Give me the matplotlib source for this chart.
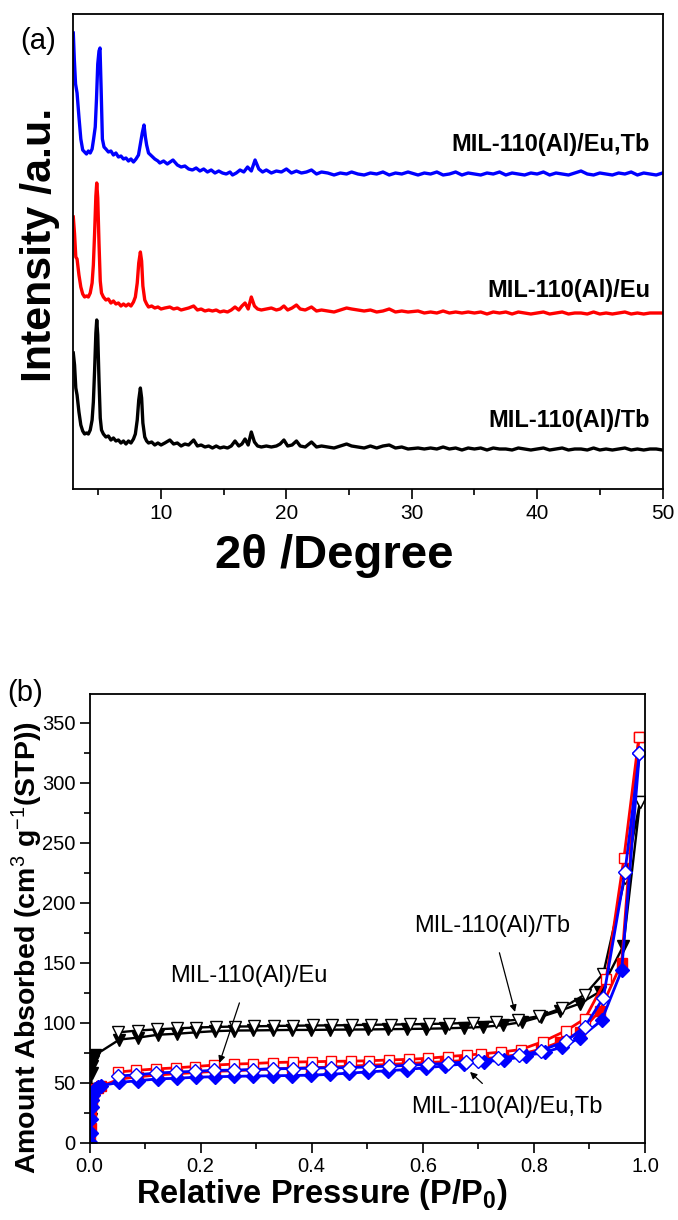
import matplotlib
matplotlib.use("Agg")
import matplotlib.pyplot as plt

plt.rcParams['font.family'] = ['Liberation Sans', 'DejaVu Sans']
plt.rcParams['mathtext.fontset'] = 'custom'
plt.rcParams['mathtext.rm'] = 'Liberation Sans'
plt.rcParams['mathtext.bf'] = 'Liberation Sans:bold'
plt.rcParams['mathtext.it'] = 'Liberation Sans:italic'

# ---------------- XRD data (panel a) ----------------
tb_2theta = [3.00, 3.10, 3.20, 3.30, 3.45, 3.60, 3.75, 3.90, 4.05, 4.20, 4.35, 4.50, 4.60, 4.70, 4.80, 4.87,
             4.95, 5.05, 5.15, 5.25, 5.40, 5.60, 5.80, 6.00, 6.20, 6.40, 6.60, 6.80, 7.00, 7.20, 7.40, 7.60,
             7.80, 7.95, 8.10, 8.22, 8.35, 8.45, 8.55, 8.70, 8.85, 9.00, 9.25, 9.50, 9.75, 10.0, 10.3, 10.7,
             11.0, 11.3, 11.6, 11.9, 12.2, 12.6, 12.9, 13.2, 13.5, 13.8, 14.1, 14.4, 14.7, 15.0, 15.3, 15.6,
             15.9, 16.2, 16.45, 16.7, 16.95, 17.2, 17.45, 17.7, 18.0, 18.4, 18.8, 19.2, 19.5, 19.8, 20.1, 20.45,
             20.8, 21.1, 21.5, 22.0, 22.4, 22.8, 23.3, 23.8, 24.3, 24.8, 25.2, 25.7, 26.2, 26.7, 27.2, 27.7,
             28.2, 28.7, 29.2, 29.7, 30.5, 31.0, 31.5, 32.0, 32.5, 33.0, 33.5, 34.0, 34.5, 35.0, 35.5, 36.0,
             36.5, 37.0, 37.5, 38.0, 38.5, 39.0, 39.5, 40.0, 40.5, 41.0, 41.5, 42.0, 42.5, 43.0, 43.5, 44.0,
             44.5, 45.0, 45.5, 46.0, 46.5, 47.0, 47.5, 48.0, 48.5, 49.0, 49.5, 50.0]
tb_int = [136, 124, 101, 94, 77, 64, 58, 55, 56, 55, 59, 69, 87, 119, 156, 169,
          154, 109, 71, 59, 55, 52, 53, 49, 51, 48, 49, 46, 48, 45, 48, 46,
          50, 55, 69, 89, 101, 91, 66, 52, 48, 46, 47, 44, 46, 44, 46, 49,
          45, 46, 43, 45, 44, 49, 43, 44, 42, 43, 41, 43, 41, 42, 41, 43,
          48, 43, 45, 50, 44, 57, 47, 43, 42, 43, 42, 43, 45, 49, 43, 44,
          48, 43, 42, 47, 42, 43, 42, 41, 43, 45, 43, 42, 41, 43, 41, 43,
          44, 41, 42, 40, 41, 40, 41, 40, 42, 40, 41, 39, 41, 40, 41, 39,
          41, 40, 40, 39, 41, 40, 39, 40, 41, 39, 40, 41, 39, 40, 40, 39,
          41, 39, 40, 39, 40, 41, 39, 40, 39, 40, 40, 39]

eu_2theta = tb_2theta
eu_int = [272, 255, 232, 230, 214, 202, 195, 192, 193, 192, 196, 206, 224, 256, 293, 306,
          291, 246, 208, 196, 192, 189, 190, 186, 188, 185, 186, 183, 185, 183, 185, 183,
          187, 192, 206, 226, 237, 228, 203, 189, 185, 182, 183, 181, 182, 180, 181, 182,
          180, 181, 179, 180, 181, 183, 179, 180, 178, 179, 178, 179, 177, 178, 177, 179,
          182, 179, 183, 186, 180, 192, 183, 180, 179, 180, 181, 179, 180, 183, 179, 181,
          184, 180, 179, 182, 178, 179, 178, 177, 179, 181, 180, 179, 178, 179, 177, 178,
          180, 177, 178, 177, 178, 176, 177, 176, 178, 176, 177, 176, 177, 176, 177, 175,
          177, 176, 177, 175, 177, 176, 175, 176, 177, 175, 176, 177, 175, 176, 176, 175,
          177, 175, 176, 175, 176, 177, 175, 176, 175, 176, 176, 176]

eutb_2theta = [3.00, 3.08, 3.18, 3.30, 3.45, 3.60, 3.75, 3.90, 4.05, 4.20, 4.35, 4.50, 4.62, 4.75, 4.85, 4.95,
               5.05, 5.13, 5.22, 5.32, 5.45, 5.60, 5.80, 6.00, 6.20, 6.40, 6.60, 6.80, 7.00, 7.20, 7.40, 7.60,
               7.80, 8.00, 8.20, 8.35, 8.50, 8.64, 8.75, 8.85, 9.00, 9.25, 9.50, 9.75, 9.90, 10.2, 10.5, 10.95,
               11.3, 11.6, 11.9, 12.2, 12.5, 12.8, 13.1, 13.4, 13.7, 14.0, 14.3, 14.6, 14.9, 15.2, 15.5, 15.7,
               16.0, 16.3, 16.6, 16.9, 17.2, 17.5, 17.8, 18.1, 18.4, 18.8, 19.2, 19.6, 20.0, 20.4, 20.8, 21.2,
               21.6, 22.0, 22.4, 22.8, 23.3, 23.8, 24.3, 24.8, 25.2, 25.7, 26.2, 26.7, 27.2, 27.7, 28.2, 28.7,
               29.2, 29.7, 30.5, 31.0, 31.5, 32.0, 32.5, 33.0, 33.5, 34.0, 34.5, 35.0, 35.5, 36.0, 36.5, 37.0,
               37.5, 38.0, 38.5, 39.0, 39.5, 40.0, 40.5, 41.0, 41.5, 42.0, 42.5, 43.0, 43.5, 44.0, 44.5, 45.0,
               45.5, 46.0, 46.5, 47.0, 47.5, 48.0, 48.5, 49.0, 49.5, 50.0]
eutb_int = [456, 430, 405, 396, 372, 350, 339, 337, 335, 338, 336, 340, 350, 362, 390, 425,
            438, 441, 400, 350, 342, 340, 337, 338, 334, 336, 332, 333, 330, 331, 328, 330,
            327, 330, 334, 345, 356, 364, 352, 344, 336, 333, 330, 328, 326, 328, 325, 329,
            324, 322, 323, 320, 319, 321, 318, 320, 317, 319, 316, 318, 316, 315, 317, 314,
            316, 319, 317, 322, 318, 329, 320, 317, 319, 316, 318, 317, 320, 316, 318, 316,
            317, 319, 315, 317, 316, 314, 316, 315, 317, 315, 314, 316, 315, 317, 314, 316,
            315, 317, 314, 316, 315, 317, 314, 315, 317, 314, 316, 315, 314, 316, 315, 317,
            314, 316, 315, 314, 316, 315, 317, 314, 316, 315, 314, 316, 318, 315, 314, 316,
            315, 314, 316, 315, 317, 314, 316, 315, 314, 316]

xrd_labels = ['MIL-110(Al)/Eu,Tb', 'MIL-110(Al)/Eu', 'MIL-110(Al)/Tb']
xrd_label_y = [344, 199, 68]

# ---------------- N2 isotherm data (panel b) ----------------
tb_ads_p = [0.001, 0.002, 0.003, 0.004, 0.005, 0.006, 0.008, 0.010,
            0.054, 0.088, 0.123, 0.157, 0.192, 0.226, 0.261, 0.295, 0.330, 0.364, 0.399, 0.433, 0.468,
            0.502, 0.537, 0.571, 0.606, 0.640, 0.675, 0.709, 0.744, 0.778, 0.813, 0.847, 0.883, 0.919,
            0.961, 0.991]
tb_ads_v = [4, 20, 45, 58, 64, 68, 71, 73,
            86, 87.6, 90, 90.8, 92, 93, 93.5, 93.6, 93.8, 94, 94, 94.2, 94.3,
            94.4, 94.6, 94.8, 95, 95.3, 95.8, 96.5, 98, 100.5, 105, 110, 116, 126,
            164, 284]
tb_des_p = [0.991, 0.964, 0.925, 0.892, 0.850, 0.810, 0.771, 0.732, 0.690, 0.647, 0.612, 0.577, 0.542, 0.507,
            0.472, 0.437, 0.402, 0.367, 0.332, 0.297, 0.262, 0.227, 0.192, 0.157, 0.122, 0.087, 0.052]
tb_des_v = [284, 221, 141, 123.5, 112, 105.5, 102.5, 101, 100, 99.3, 99, 98.7, 98.5, 98.3,
            98, 97.8, 97.7, 97.5, 97.3, 97, 96.8, 96.5, 96, 95.3, 94.5, 93.5, 92]

eu_ads_p = [0.001, 0.002, 0.003, 0.004, 0.005, 0.006, 0.008, 0.010, 0.015, 0.020,
            0.054, 0.088, 0.123, 0.157, 0.192, 0.226, 0.261, 0.295, 0.330, 0.364, 0.399, 0.433, 0.468,
            0.502, 0.537, 0.571, 0.606, 0.640, 0.675, 0.709, 0.744, 0.778, 0.813, 0.847, 0.883, 0.919,
            0.958, 0.989]
eu_ads_v = [2, 12, 24, 32, 37, 40, 43, 45, 46, 47,
            53, 55, 56.5, 57.5, 58.5, 59.5, 60, 60.8, 61.5, 62, 62.5, 63, 63.8,
            64.5, 65.2, 66, 66.8, 67.5, 68.5, 70, 71.5, 74, 78, 84, 92, 110,
            150, 338]
eu_des_p = [0.989, 0.962, 0.930, 0.892, 0.858, 0.816, 0.776, 0.740, 0.705, 0.680, 0.645, 0.610, 0.576, 0.540,
            0.504, 0.470, 0.435, 0.400, 0.366, 0.330, 0.294, 0.260, 0.225, 0.190, 0.156, 0.120, 0.084, 0.051]
eu_des_v = [338, 237, 136.5, 103.4, 93.4, 84.2, 77.6, 75.5, 74, 73, 71.8, 70.4, 69.5, 69,
            68.3, 68, 67.8, 67.5, 67.2, 66.8, 66, 65.5, 64.7, 63.5, 62.4, 61.5, 60.3, 58.9]

eutb_ads_p = [0.001, 0.002, 0.003, 0.004, 0.005, 0.006, 0.008, 0.010, 0.015, 0.020,
              0.054, 0.088, 0.123, 0.157, 0.192, 0.226, 0.261, 0.295, 0.330, 0.364, 0.399, 0.433, 0.468,
              0.502, 0.537, 0.571, 0.606, 0.640, 0.675, 0.710, 0.747, 0.786, 0.820, 0.850, 0.883, 0.922,
              0.958, 0.990]
eutb_ads_v = [1, 8, 20, 30, 36, 40, 43, 45, 46.5, 47.5,
              50.3, 51.7, 53.2, 53.7, 54.6, 55, 55.3, 55.6, 55.8, 56, 56.3, 57, 58,
              59, 60, 61, 62.5, 64, 65.8, 67.5, 69, 72.4, 75.5, 79.6, 87.6, 102,
              143.7, 324.7]
eutb_des_p = [0.990, 0.964, 0.925, 0.892, 0.858, 0.813, 0.774, 0.735, 0.699, 0.678, 0.645, 0.610, 0.575, 0.540,
              0.504, 0.468, 0.435, 0.400, 0.366, 0.330, 0.294, 0.260, 0.225, 0.190, 0.156, 0.120, 0.084, 0.051]
eutb_des_v = [324.7, 225.6, 120.7, 96.8, 84.8, 76.7, 72.7, 70.4, 68.1, 67.5, 66.1, 65.3, 64.5, 63.8,
              63.2, 62.6, 62.4, 62.2, 61.8, 61.6, 61, 60.5, 60.3, 59.5, 58.9, 58, 56.6, 55.5]

# ---------------- figure ----------------
W, H = 678, 1220
fig = plt.figure(figsize=(W / 100, H / 100), dpi=100)

def fx(px):
    return px / W

def fy(py):
    return 1 - py / H

# panel a
axa = fig.add_axes([fx(73.3), fy(489), fx(662.5) - fx(73.3), fy(14) - fy(489)])
axa.plot(tb_2theta, tb_int, color='black', lw=2.4)
axa.plot(eu_2theta, eu_int, color='#ff0000', lw=2.4)
axa.plot(eutb_2theta, eutb_int, color='#0000ff', lw=2.4)
axa.set_xlim(3, 50)
axa.set_ylim(0, 475)
axa.set_yticks([])
axa.set_xticks([10, 20, 30, 40, 50])
axa.set_xticks([5, 15, 25, 35, 45], minor=True)
axa.tick_params(axis='x', which='major', direction='out', length=7, width=1.2, labelsize=15, pad=4)
axa.tick_params(axis='x', which='minor', direction='out', length=4, width=1.2)
for s in axa.spines.values():
    s.set_linewidth(1.3)
for lab, yy in zip(xrd_labels, xrd_label_y):
    axa.text(49.0, yy, lab, ha='right', va='center', fontsize=17, fontweight='bold')

fig.text(fx(38), fy(41), '(a)', fontsize=21, ha='center', va='center')
fig.text(fx(40), fy(245), 'Intensity /a.u.', rotation=90, fontsize=31, fontweight='bold',
         ha='center', va='center')
fig.text(fx(334), fy(556), '2θ /Degree', fontsize=34, fontweight='bold', ha='center', va='center')

# panel b
axb = fig.add_axes([fx(89.5), fy(1142.7), fx(645) - fx(89.5), fy(694) - fy(1142.7)])
ms_t = 9
ms_s = 7
ms_d = 7.5
axb.plot(tb_ads_p, tb_ads_v, color='black', lw=1.7, marker='v', ms=ms_t, mfc='black', mec='black')
axb.plot(tb_des_p, tb_des_v, color='black', lw=1.7, marker='v', ms=ms_t, mfc='white', mec='black', mew=1.0)
axb.plot(eu_ads_p, eu_ads_v, color='#ff0000', lw=2.0, marker='s', ms=ms_s, mfc='#ff0000', mec='#ff0000')
axb.plot(eu_des_p, eu_des_v, color='#ff0000', lw=2.0, marker='s', ms=ms_s, mfc='white', mec='#ff0000', mew=1.0)
axb.plot(eutb_ads_p, eutb_ads_v, color='#0000ff', lw=2.0, marker='D', ms=ms_d, mfc='#0000ff', mec='#0000ff')
axb.plot(eutb_des_p, eutb_des_v, color='#0000ff', lw=2.0, marker='D', ms=ms_d, mfc='white', mec='#0000ff', mew=1.0)
axb.set_xlim(0, 1.0)
axb.set_ylim(0, 374)
axb.set_xticks([0.0, 0.2, 0.4, 0.6, 0.8, 1.0])
axb.set_xticklabels(['0.0', '0.2', '0.4', '0.6', '0.8', '1.0'])
axb.set_xticks([0.1, 0.3, 0.5, 0.7, 0.9], minor=True)
axb.set_yticks([0, 50, 100, 150, 200, 250, 300, 350])
axb.set_yticks([25, 75, 125, 175, 225, 275, 325], minor=True)
axb.tick_params(which='major', direction='out', length=7, width=1.2, labelsize=14.5, pad=3)
axb.tick_params(which='minor', direction='out', length=4, width=1.2)
for s in axb.spines.values():
    s.set_linewidth(1.3)

axb.annotate('MIL-110(Al)/Eu', xy=(0.234, 66.5), xytext=(0.286, 139), fontsize=17,
             ha='center', va='center', arrowprops=dict(arrowstyle='-|>', color='black', lw=0.9,
             mutation_scale=10, shrinkA=10, shrinkB=0))
axb.annotate('MIL-110(Al)/Tb', xy=(0.766, 109), xytext=(0.725, 181), fontsize=17,
             ha='center', va='center', arrowprops=dict(arrowstyle='-|>', color='black', lw=0.9,
             mutation_scale=10, shrinkA=10, shrinkB=0))
axb.annotate('MIL-110(Al)/Eu,Tb', xy=(0.685, 59), xytext=(0.752, 30), fontsize=17,
             ha='center', va='center', arrowprops=dict(arrowstyle='-|>', color='black', lw=0.9,
             mutation_scale=10, shrinkA=10, shrinkB=0))

fig.text(fx(25), fy(693), '(b)', fontsize=21, ha='center', va='center')
fig.text(fx(27), fy(948), r'Amount Absorbed (cm$^{3}$ g$^{-1}$(STP))', rotation=90, fontsize=20.5,
         fontweight='bold', ha='center', va='center')
fig.text(fx(322), fy(1195), r'Relative Pressure (P/P$_\mathbf{0}$)', fontsize=23.5, fontweight='bold',
         ha='center', va='center')

fig.savefig('out.png', dpi=100)
